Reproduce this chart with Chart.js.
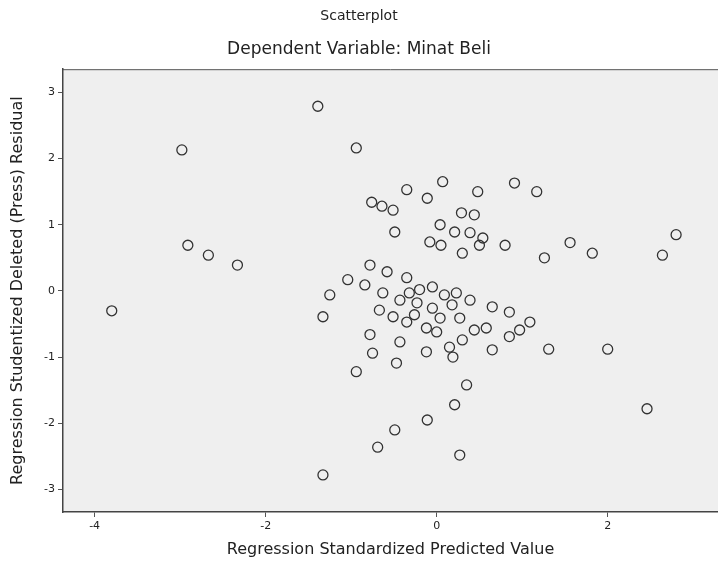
<!DOCTYPE html>
<html>
<head>
<meta charset="utf-8">
<script src="https://cdn.jsdelivr.net/npm/chart.js@4.4.1/dist/chart.umd.min.js"></script>
<style>
    html, body { margin: 0; padding: 0; background: #fff; overflow: hidden; }
    canvas { display: block; }
</style>
</head>
<body>
<canvas id="grafico" width="718" height="568"></canvas>
<script>
// Dados (valor previsto padronizado x resíduo)
const valorPrevisto = [
    -3.80, -2.98, -2.91, -2.67, -2.33, -1.39, -0.94, -1.33, -0.69, -0.49,
    -0.11, 0.21, 0.35, 0.27, -0.94, 2.46, 2.00, 1.31, 2.80, 2.64,
    1.82, 1.56, 1.26, 0.07, -0.35, -0.11, 0.48, 0.91, 1.17, -0.51,
    0.44, 0.04, 0.39, 0.54, 0.80, -0.49, -0.08, 0.30, -0.76, -0.64,
    0.29, 0.21, 0.50, 0.05, -0.78, -0.58, -0.35, -1.04, -1.25, -1.33,
    -0.05, 0.23, -0.63, -0.43, -0.23, -0.05, -0.67, -0.51, -0.35, 0.27,
    0.00, -0.12, 0.30, -0.78, -0.43, -0.12, -0.75, -0.47, 0.19, 0.65,
    0.85, 0.58, 0.85, 0.65, 1.09, -0.32, 0.09, -0.20, 0.18, 0.39,
    0.44, 0.04, -0.26, -0.84, 0.15, 0.97
];
const residuo = [
    -0.30, 2.13, 0.69, 0.54, 0.39, 2.79, 2.16, -2.78, -2.36, -2.10,
    -1.95, -1.72, -1.42, -2.48, -1.22, -1.78, -0.88, -0.88, 0.85, 0.54,
    0.57, 0.73, 0.50, 1.65, 1.53, 1.40, 1.50, 1.63, 1.50, 1.22,
    1.15, 1.00, 0.88, 0.80, 0.69, 0.89, 0.74, 0.57, 1.34, 1.28,
    1.18, 0.89, 0.69, 0.69, 0.39, 0.29, 0.20, 0.17, -0.06, -0.39,
    0.06, -0.03, -0.03, -0.14, -0.18, -0.26, -0.29, -0.39, -0.47, -0.41,
    -0.62, -0.56, -0.74, -0.66, -0.77, -0.92, -0.94, -1.09, -1.00, -0.24,
    -0.32, -0.56, -0.69, -0.89, -0.47, -0.03, -0.06, 0.02, -0.21, -0.14,
    -0.59, -0.41, -0.36, 0.09, -0.85, -0.59
];
const ticksX = [-4, -2, 0, 2];
const ticksY = [-3, -2, -1, 0, 1, 2, 3];

const pontos = valorPrevisto.map((v, i) => ({ x: v, y: residuo[i] }));

// Fundo cinza da área do gráfico + linha superior
const fundoPlot = {
    id: 'fundoPlot',
    beforeDraw(chart) {
        const { ctx, chartArea: a } = chart;
        ctx.save();
        ctx.fillStyle = '#efefef';
        ctx.fillRect(a.left, a.top, a.right - a.left, a.bottom - a.top);
        ctx.strokeStyle = '#555';
        ctx.lineWidth = 1;
        ctx.beginPath();
        ctx.moveTo(a.left, a.top + 0.5);
        ctx.lineTo(a.right, a.top + 0.5);
        ctx.stroke();
        ctx.restore();
    }
};

const fonte = 'DejaVu Sans';

new Chart(document.getElementById('grafico'), {
    type: 'scatter',
    data: {
        datasets: [{
            data: pontos,
            pointStyle: 'circle',
            pointRadius: 5,
            pointBorderWidth: 1.3,
            pointBorderColor: '#333',
            pointBackgroundColor: 'rgba(0,0,0,0)'
        }]
    },
    options: {
        responsive: false,
        animation: false,
        layout: { padding: 0, autoPadding: false },
        plugins: {
            legend: { display: false },
            tooltip: { enabled: false },
            title: {
                display: true,
                text: 'Scatterplot',
                color: '#222',
                font: { family: fonte, size: 14, weight: 'normal' },
                padding: { top: 8, bottom: 7 }
            },
            subtitle: {
                display: true,
                text: 'Dependent Variable: Minat Beli',
                color: '#222',
                font: { family: fonte, size: 17 },
                padding: { top: 8, bottom: 9 }
            }
        },
        scales: {
            x: {
                type: 'linear',
                min: -4.37,
                max: 3.29,
                afterFit: s => { s.height = 56; s.paddingLeft = 0; s.paddingRight = 0; },
                afterBuildTicks: s => { s.ticks = ticksX.map(v => ({ value: v })); },
                grid: { drawOnChartArea: false, drawTicks: true, tickLength: 5, color: '#555' },
                border: { display: true, color: '#444', width: 1.5 },
                ticks: { color: '#222', font: { family: fonte, size: 11 }, padding: 3 },
                title: {
                    display: true,
                    text: 'Regression Standardized Predicted Value',
                    color: '#222',
                    font: { family: fonte, size: 16 },
                    padding: { top: 4, bottom: 9 }
                }
            },
            y: {
                type: 'linear',
                min: -3.34,
                max: 3.35,
                afterFit: s => { s.width = 63; s.paddingTop = 0; s.paddingBottom = 0; },
                afterBuildTicks: s => { s.ticks = ticksY.map(v => ({ value: v })); },
                grid: { drawOnChartArea: false, drawTicks: true, tickLength: 5, color: '#555' },
                border: { display: true, color: '#444', width: 1.5 },
                ticks: { color: '#222', font: { family: fonte, size: 11 }, padding: 3 },
                title: {
                    display: true,
                    text: 'Regression Studentized Deleted (Press) Residual',
                    color: '#222',
                    font: { family: fonte, size: 16 },
                    padding: { top: 8, bottom: 4 }
                }
            }
        }
    },
    plugins: [fundoPlot]
});
</script>
</body>
</html>
